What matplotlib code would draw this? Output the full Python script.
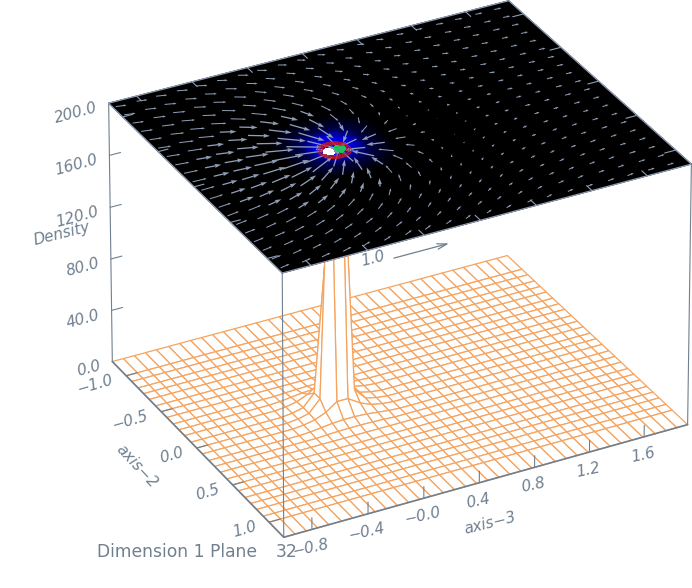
import numpy as np
import matplotlib
matplotlib.use("Agg")
import matplotlib.pyplot as plt
from matplotlib.collections import PolyCollection
from matplotlib.colors import LinearSegmentedColormap, PowerNorm

# Axis ranges and ticks
x3_range = [-1.0, 1.92]
x2_range = [-1.2, 1.2]
z_range = [0.0, 200.0]
x3_ticks = [-0.8, -0.4, 0.0, 0.4, 0.8, 1.2, 1.6]
x3_labels = ['\u22120.8', '\u22120.4', '\u22120.0', '0.4', '0.8', '1.2', '1.6']
x2_ticks = [-1.0, -0.5, 0.0, 0.5, 1.0]
x2_labels = ['\u22121.0', '\u22120.5', '0.0', '0.5', '1.0']
z_ticks = [0, 40, 80, 120, 160, 200]
z_labels = ['0.0', '40.0', '80.0', '120.0', '160.0', '200.0']

# Surface grid
x3_grid = [-1.00, -0.92, -0.84, -0.76, -0.68, -0.59, -0.51, -0.43, -0.35, -0.27, -0.19, -0.11, -0.03,
           0.05, 0.14, 0.22, 0.30, 0.38, 0.46, 0.54, 0.62, 0.70, 0.78, 0.86, 0.95, 1.03, 1.11, 1.19,
           1.27, 1.35, 1.43, 1.51, 1.59, 1.68, 1.76, 1.84, 1.92]
x2_grid = [-1.2, -1.0, -0.92, -0.83, -0.75, -0.67, -0.58, -0.50, -0.42, -0.33, -0.25, -0.17, -0.08, 0.0,
           0.08, 0.17, 0.25, 0.33, 0.42, 0.50, 0.58, 0.67, 0.75, 0.83, 0.92, 1.0, 1.2]

# Density around the peak, everything else is about zero
peak_density = [
    [0.0, 0.5, 0.8, 1.0, 1.0, 0.8, 0.5, 0.0],
    [0.5, 1.5, 2.5, 3.0, 3.0, 2.5, 1.5, 0.5],
    [0.8, 2.5, 6.0, 12.0, 12.0, 6.0, 2.5, 0.8],
    [1.0, 3.0, 12.0, 110.0, 120.0, 12.0, 3.0, 1.0],
    [1.0, 3.0, 12.0, 235.0, 225.0, 12.0, 3.0, 1.0],
    [0.8, 2.5, 6.0, 12.0, 12.0, 6.0, 2.5, 0.8],
    [0.5, 1.5, 2.5, 3.0, 3.0, 2.5, 1.5, 0.5],
    [0.0, 0.5, 0.8, 1.0, 1.0, 0.8, 0.5, 0.0],
]

# Contours on the top plane, small grid around the peak
core_centre = [0.0, 0.0]
core_offsets = [-0.12, -0.09, -0.06, -0.03, 0.0, 0.03, 0.06, 0.09, 0.12]
core_rings = [
    [-5.5, -3.6, -2.2, -1.3, -0.9, -1.3, -2.2, -3.6, -5.5],
    [-3.6, -1.5, 0.2, 1.4, 1.8, 1.4, 0.2, -1.5, -3.6],
    [-2.2, 0.2, 2.3, 3.9, 4.5, 3.9, 2.3, 0.2, -2.2],
    [-1.3, 1.4, 3.9, 6.2, 7.3, 6.2, 3.9, 1.4, -1.3],
    [-0.9, 1.8, 4.5, 7.3, 10.0, 7.3, 4.5, 1.8, -0.9],
    [-1.3, 1.4, 3.9, 6.2, 7.3, 6.2, 3.9, 1.4, -1.3],
    [-2.2, 0.2, 2.3, 3.9, 4.5, 3.9, 2.3, 0.2, -2.2],
    [-3.6, -1.5, 0.2, 1.4, 1.8, 1.4, 0.2, -1.5, -3.6],
    [-5.5, -3.6, -2.2, -1.3, -0.9, -1.3, -2.2, -3.6, -5.5],
]
core_lobes = [
    [0, 0, 0, 0, 0, 0, 0, 0, 0],
    [0, 0, 0, 0, 0, 0, 0, 0, 0],
    [0, 0, 0, 1, 0, -1, 0, 0, 0],
    [0, 0, 2, 4, 0, -4, -2, 0, 0],
    [0, 1, 5, 9, 0, -9, -5, -1, 0],
    [0, 0, 2, 4, 0, -4, -2, 0, 0],
    [0, 0, 0, 1, 0, -1, 0, 0, 0],
    [0, 0, 0, 0, 0, 0, 0, 0, 0],
    [0, 0, 0, 0, 0, 0, 0, 0, 0],
]

# Velocity vectors on the top plane
vec_x3 = [-0.98, -0.83, -0.69, -0.54, -0.40, -0.25, -0.10, 0.04, 0.19, 0.33,
          0.48, 0.62, 0.77, 0.91, 1.06, 1.20, 1.35, 1.49, 1.64, 1.78]
vec_x2 = [-1.14, -1.02, -0.90, -0.78, -0.66, -0.54, -0.42, -0.30, -0.18, -0.06,
          0.06, 0.18, 0.30, 0.42, 0.54, 0.66, 0.78, 0.90, 1.02, 1.14]
# one half of the field, from the edge row to the row next to the peak
u_half = [
    [.18, .18, .18, .18, .17, .16, .16, .15, .14, .13, .12, .12, .12, .12, .12, .12, .13, .13, .13, .13],
    [.19, .19, .19, .18, .18, .17, .16, .14, .13, .12, .12, .11, .11, .11, .12, .12, .12, .13, .13, .13],
    [.19, .20, .20, .19, .19, .18, .16, .14, .12, .11, .11, .10, .10, .11, .11, .12, .12, .12, .13, .13],
    [.20, .21, .21, .21, .20, .19, .16, .14, .12, .10, .09, .09, .09, .10, .10, .11, .11, .12, .12, .13],
    [.21, .22, .23, .23, .22, .21, .17, .13, .10, .08, .07, .07, .08, .09, .10, .10, .11, .12, .12, .12],
    [.22, .24, .25, .25, .26, .24, .19, .12, .07, .04, .05, .05, .07, .08, .09, .10, .11, .11, .12, .12],
    [.23, .25, .27, .29, .31, .29, .21, .10, .02, -.01, .00, .03, .05, .07, .08, .09, .10, .11, .12, .12],
    [.24, .27, .30, .34, .38, .37, .26, .07, -.06, -.08, -.05, .00, .04, .06, .07, .09, .10, .10, .11, .12],
    [.25, .28, .32, .38, .45, .52, .37, -.02, -.25, -.20, -.12, -.03, .02, .05, .07, .08, .10, .10, .12, .12],
    [.25, .28, .33, .42, .51, .64, .55, -.15, -.48, -.30, -.18, -.08, .01, .04, .07, .08, .10, .10, .12, .12],
]
v_half = [
    [.04, .04, .05, .06, .07, .07, .08, .08, .07, .07, .06, .05, .04, .04, .03, .02, .02, .02, .01, .01],
    [.04, .05, .06, .07, .08, .09, .09, .09, .09, .08, .07, .06, .05, .04, .03, .03, .02, .02, .01, .01],
    [.04, .05, .06, .08, .09, .10, .12, .12, .11, .09, .08, .07, .05, .04, .03, .03, .02, .02, .01, .01],
    [.04, .05, .07, .09, .11, .13, .14, .14, .13, .11, .09, .07, .06, .04, .03, .03, .02, .02, .01, .01],
    [.04, .06, .08, .10, .13, .16, .18, .18, .16, .13, .10, .08, .06, .04, .03, .03, .02, .02, .01, .01],
    [.04, .06, .08, .11, .15, .21, .24, .25, .22, .17, .11, .08, .06, .04, .03, .02, .02, .01, .01, .01],
    [.04, .05, .07, .11, .18, .25, .32, .34, .26, .19, .13, .08, .05, .04, .03, .02, .02, .01, .01, .01],
    [.03, .04, .07, .11, .18, .29, .42, .42, .30, .20, .12, .07, .04, .03, .02, .02, .01, .01, .01, .01],
    [.02, .03, .05, .08, .14, .29, .50, .52, .31, .16, .09, .05, .03, .02, .01, .01, .01, .01, .00, .00],
    [.01, .01, .02, .03, .06, .13, .30, .30, .14, .07, .03, .02, .01, .01, .00, .00, .00, .00, .00, .00],
]
vec_scale = 0.39  # axis units per velocity unit
ref_speed = 1.0

colour_axis = '#708090'
colour_grid = '#f4a460'
colour_vec = '#8f9db5'

# Camera: where the corners of the box land on the page
box_corners = [(-1.0, -1.2, 0, 113, 362), (-1.0, 1.2, 0, 283, 537), (1.92, 1.2, 0, 688, 425), (1.92, -1.2, 0, 507, 255),
               (-1.0, -1.2, 200, 108, 103), (-1.0, 1.2, 200, 283, 273), (1.92, 1.2, 200, 691, 164), (1.92, -1.2, 200, 509, 1)]
rows = []
for x, y, z, px, py in box_corners:
    rows.append([x, y, z / 100, 1, 0, 0, 0, 0, -px * x, -px * y, -px * z / 100, -px])
    rows.append([0, 0, 0, 0, x, y, z / 100, 1, -py * x, -py * y, -py * z / 100, -py])
cam = np.linalg.svd(np.array(rows, dtype=float))[2][-1].reshape(3, 4)


def project(x, y, z):
    x, y, z = np.broadcast_arrays(np.asarray(x, float), np.asarray(y, float), np.asarray(z, float))
    w = cam[2, 0] * x + cam[2, 1] * y + cam[2, 2] * z / 100 + cam[2, 3]
    px = (cam[0, 0] * x + cam[0, 1] * y + cam[0, 2] * z / 100 + cam[0, 3]) / w
    py = (cam[1, 0] * x + cam[1, 1] * y + cam[1, 2] * z / 100 + cam[1, 3]) / w
    return px, py


def line3d(a, b, **kw):
    px, py = project([a[0], b[0]], [a[1], b[1]], [a[2], b[2]])
    ax.plot(px, py, solid_capstyle='round', **kw)


fig = plt.figure(figsize=(6.92, 5.88), dpi=100)
ax = fig.add_axes([0, 0, 1, 1])
ax.set_xlim(0, 692)
ax.set_ylim(588, 0)
ax.axis('off')

X, Y = np.meshgrid(x3_grid, x2_grid)
Z = np.zeros(X.shape)
Z[9:17, 9:17] = np.array(peak_density)

# surface, painted from the back corner to the front corner
px, py = project(X, Y, Z)
cells = []
for j in range(len(x2_grid) - 1):
    for i in range(len(x3_grid) - 2, -1, -1):
        cells.append([(px[j, i], py[j, i]), (px[j, i + 1], py[j, i + 1]),
                      (px[j + 1, i + 1], py[j + 1, i + 1]), (px[j + 1, i], py[j + 1, i])])
ax.add_collection(PolyCollection(cells, facecolors='white', edgecolors=colour_grid, linewidths=0.9, zorder=2))

# box lines
xa, xb = x3_range
ya, yb = x2_range
line3d((xa, ya, 0), (xa, ya, 200), color=colour_axis, lw=0.8, zorder=3)
line3d((xa, yb, 0), (xa, yb, 200), color=colour_axis, lw=0.8, zorder=3)
line3d((xb, yb, 0), (xb, yb, 200), color=colour_axis, lw=0.8, zorder=3)
line3d((xa, ya, 0), (xa, yb, 0), color=colour_axis, lw=1.2, zorder=3)
line3d((xa, yb, 0), (xb, yb, 0), color=colour_axis, lw=1.2, zorder=3)

# top plane
tx, ty = project(X, Y, np.full(X.shape, 200.0))
plane_cmap = LinearSegmentedColormap.from_list('plane', ['black', '#000070', '#0000ff'])
ax.pcolormesh(tx, ty, Z, shading='gouraud', cmap=plane_cmap, norm=PowerNorm(0.7, vmin=0, vmax=14), zorder=4)
edge_x, edge_y = project([xa, xa, xb, xb, xa], [ya, yb, yb, ya, ya], 200)
ax.plot(edge_x, edge_y, color=colour_vec, lw=0.9, zorder=5)

# vectors, the slow ones read as plain dashes
u_half = np.array(u_half)
v_half = np.array(v_half)
U = np.vstack([u_half, u_half[::-1]])
V = np.vstack([v_half, -v_half[::-1]])
VX, VY = np.meshgrid(vec_x3, vec_x2)
x0, y0 = project(VX, VY, 200)
x1, y1 = project(VX + U * vec_scale, VY + V * vec_scale, 200)
fast = np.hypot(U, V) > 0.27
ax.quiver(x0[~fast], y0[~fast], (x1 - x0)[~fast], (y1 - y0)[~fast], angles='xy', scale_units='xy', scale=1,
          color=colour_vec, units='inches', width=0.010, headwidth=2.2, headlength=3, headaxislength=2.8,
          minlength=0.2, zorder=8)
ax.quiver(x0[fast], y0[fast], (x1 - x0)[fast], (y1 - y0)[fast], angles='xy', scale_units='xy', scale=1,
          color=colour_vec, units='inches', width=0.013, headwidth=3.2, headlength=5, headaxislength=4.5,
          minlength=0.2, zorder=8)

# contours go over the vectors
cx, cy = np.meshgrid(np.array(core_offsets) + core_centre[0], np.array(core_offsets) + core_centre[1])
cpx, cpy = project(cx, cy, 200)
ax.contour(cpx, cpy, np.array(core_rings), levels=[0.2, 1.1, 2.0, 2.9, 3.8], colors='#d01818',
           linewidths=0.6, zorder=9)
ax.contourf(cpx, cpy, np.array(core_lobes, float), levels=[2.4, 10], colors='white', zorder=10)
ax.contourf(cpx, cpy, np.array(core_lobes, float), levels=[-10, -2.4], colors='#20c060', zorder=10)

# reference vector
rx0, ry0 = project(-0.3, 1.36, 200)
rx1, ry1 = project(-0.3 + ref_speed * vec_scale, 1.36, 200)
ax.annotate('', xy=(rx1, ry1), xytext=(rx0, ry0), zorder=8,
            arrowprops=dict(arrowstyle='->,head_length=0.7,head_width=0.2', color=colour_axis, lw=0.9, shrinkA=0, shrinkB=0))
ax.text(373, 259, '1.0', color=colour_axis, fontsize=11, rotation=14, ha='center', va='center', style='italic', zorder=8)

# ticks
for t in x3_ticks:
    line3d((t, yb, 0), (t, yb, 9), color=colour_axis, lw=0.8, zorder=3)
    line3d((t, ya, 200), (t, ya + 0.07, 200), color=colour_vec, lw=0.8, zorder=9)
    line3d((t, yb, 200), (t, yb - 0.07, 200), color=colour_vec, lw=0.8, zorder=9)
for t in x2_ticks:
    line3d((xa, t, 0), (xa + 0.08, t, 0), color=colour_axis, lw=0.8, zorder=3)
    line3d((xa, t, 200), (xa + 0.07, t, 200), color=colour_vec, lw=0.8, zorder=9)
    line3d((xb, t, 200), (xb - 0.08, t, 200), color=colour_vec, lw=0.8, zorder=9)
for t in z_ticks[1:-1]:
    line3d((xa, ya, t), (xa + 0.08, ya, t), color=colour_axis, lw=0.8, zorder=3)

# labels
label = dict(color=colour_axis, fontsize=11, rotation_mode='anchor', zorder=11, style='italic')
for t, s in zip(z_ticks, z_labels):
    tx0, ty0 = project(xa, ya, t)
    ax.text(tx0 - 12, ty0 + 4, s, rotation=15, ha='right', va='center', **label)
for t, s in zip(x2_ticks, x2_labels):
    tx0, ty0 = project(xa, t, 0)
    ax.text(tx0 - 13, ty0 + 4, s, rotation=16, ha='right', va='center', **label)
for t, s in zip(x3_ticks, x3_labels):
    tx0, ty0 = project(t, yb, 0)
    ax.text(tx0 - 1, ty0 + 18, s, rotation=12, ha='center', va='center', **label)
ax.text(62, 234, 'Density', rotation=14, ha='center', va='center', **label)
ax.text(137, 466, 'axis\u22122', rotation=-47, ha='center', va='center', **label)
ax.text(490, 523, 'axis\u22123', rotation=14, ha='center', va='center', **label)
ax.text(97, 552, 'Dimension 1 Plane', color=colour_axis, fontsize=12.3, ha='left', va='center', zorder=11)
ax.text(287, 552, '32', color=colour_axis, fontsize=12.3, ha='center', va='center', zorder=11)

fig.savefig('out.png', dpi=100)
